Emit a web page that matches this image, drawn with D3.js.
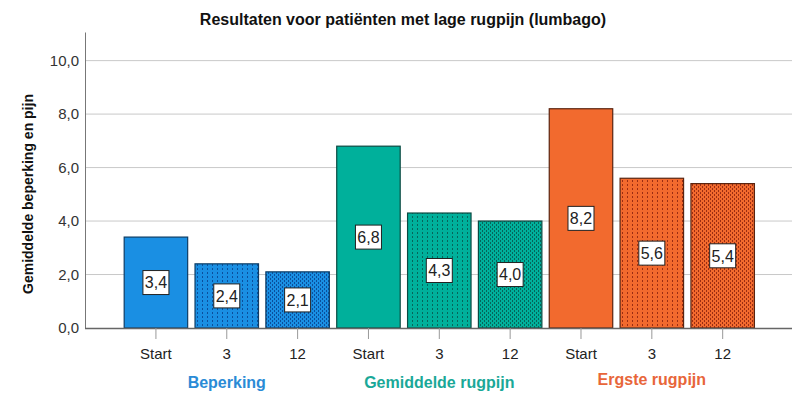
<!DOCTYPE html>
<html>
<head>
<meta charset="utf-8">
<script src="https://d3js.org/d3.v7.min.js"></script>
<style>
  body { margin: 0; background: #fff; }
  svg { font-family: "Liberation Sans", Arial, sans-serif; }
</style>
</head>
<body>
<div id="chart"></div>
<script>
// chart data
var groups = ["Beperking", "Gemiddelde rugpijn", "Ergste rugpijn"];
var moments = ["Start", "3", "12"];
var beperking = [3.4, 2.4, 2.1];
var gemiddeld = [6.8, 4.3, 4.0];
var ergste = [8.2, 5.6, 5.4];
var yTicks = [0, 2, 4, 6, 8, 10];

var groupColors = ["#1a8fe3", "#00b09b", "#f26a2e"];
var strokeColors = ["#0d3d66", "#0b4a42", "#5a2410"];
var patColors = ["#0b4f9c", "#05665a", "#9c2d12"];
var groupLabelColors = ["#2a8bd6", "#1aa898", "#e8663a"];

var series = [beperking, gemiddeld, ergste];
var data = [];
series.forEach(function(vals, g) {
  vals.forEach(function(v, i) {
    data.push({ key: g + "-" + i, group: g, moment: i, value: v });
  });
});

var W = 805, H = 394;
var svg = d3.select("#chart").append("svg")
  .attr("width", W).attr("height", H);

// patterns: 0 = solid, 1 = vertical dotted, 2 = fine brick
var defs = svg.append("defs");
groupColors.forEach(function(c, g) {
  var p1 = defs.append("pattern").attr("id", "dots" + g)
    .attr("patternUnits", "userSpaceOnUse").attr("width", 5).attr("height", 4);
  p1.append("rect").attr("width", 5).attr("height", 4).attr("fill", c);
  p1.append("rect").attr("x", 2).attr("y", 0).attr("width", 1).attr("height", 2).attr("fill", patColors[g]);

  var p2 = defs.append("pattern").attr("id", "brick" + g)
    .attr("patternUnits", "userSpaceOnUse").attr("width", 4).attr("height", 4);
  p2.append("rect").attr("width", 4).attr("height", 4).attr("fill", c);
  p2.append("rect").attr("x", 0).attr("y", 0).attr("width", 1).attr("height", 2).attr("fill", patColors[g]);
  p2.append("rect").attr("x", 2).attr("y", 2).attr("width", 1).attr("height", 2).attr("fill", patColors[g]);
});

var x = d3.scaleBand()
  .domain(data.map(function(d) { return d.key; }))
  .range([120.5, 758.1])
  .paddingInner(0.104)
  .paddingOuter(0.052);

var y = d3.scaleLinear().domain([0, 11.07]).range([328, 32]);

// gridlines
svg.append("g").selectAll("line")
  .data(yTicks.filter(function(t) { return t > 0; }))
  .enter().append("line")
  .attr("x1", 85).attr("x2", 792)
  .attr("y1", function(d) { return y(d); })
  .attr("y2", function(d) { return y(d); })
  .attr("stroke", "#c9c9c9").attr("stroke-width", 1);

// y axis
var yAxis = svg.append("g").attr("transform", "translate(85,0)")
  .call(d3.axisLeft(y).tickValues(yTicks).tickSize(0).tickPadding(6)
    .tickFormat(function(d) { return d3.format(".1f")(d).replace(".", ","); }));
yAxis.select(".domain").attr("stroke", "#777");
yAxis.selectAll("text").attr("font-size", 15).attr("fill", "#333")
  .attr("font-family", "Liberation Sans, Arial, sans-serif");

svg.append("text")
  .attr("transform", "translate(33,194) rotate(-90)")
  .attr("text-anchor", "middle")
  .attr("font-size", 14).attr("font-weight", "bold").attr("fill", "#111")
  .text("Gemiddelde beperking en pijn");

// bars
svg.append("g").selectAll("rect")
  .data(data).enter().append("rect")
  .attr("x", function(d) { return x(d.key); })
  .attr("y", function(d) { return y(d.value); })
  .attr("width", x.bandwidth())
  .attr("height", function(d) { return y(0) - y(d.value); })
  .attr("fill", function(d) {
    if (d.moment === 0) return groupColors[d.group];
    return "url(#" + (d.moment === 1 ? "dots" : "brick") + d.group + ")";
  })
  .attr("stroke", function(d) { return strokeColors[d.group]; })
  .attr("stroke-width", 1.2);

// x axis
var xAxis = svg.append("g").attr("transform", "translate(0,328)")
  .call(d3.axisBottom(x).tickSize(11).tickPadding(9)
    .tickFormat(function(k) { return moments[+k.split("-")[1]]; }));
xAxis.select(".domain").attr("d", "M85,0.5H792").attr("stroke", "#666").attr("stroke-width", 1.5);
xAxis.selectAll(".tick line").attr("stroke", "#999");
xAxis.selectAll("text").attr("font-size", 15).attr("fill", "#222")
  .attr("font-family", "Liberation Sans, Arial, sans-serif");

// value labels
var lab = svg.append("g").selectAll("g")
  .data(data).enter().append("g")
  .attr("transform", function(d) {
    return "translate(" + (x(d.key) + x.bandwidth() / 2) + "," + y(d.value / 2) + ")";
  });
lab.append("rect")
  .attr("x", -13).attr("y", -12).attr("width", 26).attr("height", 24)
  .attr("fill", "#fff").attr("stroke", "#222").attr("stroke-width", 1);
lab.append("text")
  .attr("text-anchor", "middle").attr("dy", "0.36em")
  .attr("font-size", 16).attr("fill", "#222")
  .text(function(d) { return d3.format(".1f")(d.value).replace(".", ","); });

// group labels
svg.append("g").selectAll("text")
  .data(groups).enter().append("text")
  .attr("x", function(d, g) { return x(g + "-1") + x.bandwidth() / 2; })
  .attr("y", function(d, g) { return g === 2 ? 385 : 388; })
  .attr("text-anchor", "middle")
  .attr("font-size", 16).attr("font-weight", "bold")
  .attr("fill", function(d, g) { return groupLabelColors[g]; })
  .text(function(d) { return d; });

// title
svg.append("text")
  .attr("x", 403).attr("y", 25)
  .attr("text-anchor", "middle")
  .attr("font-size", 16).attr("font-weight", "bold").attr("fill", "#111")
  .text("Resultaten voor patiënten met lage rugpijn (lumbago)");
</script>
</body>
</html>
